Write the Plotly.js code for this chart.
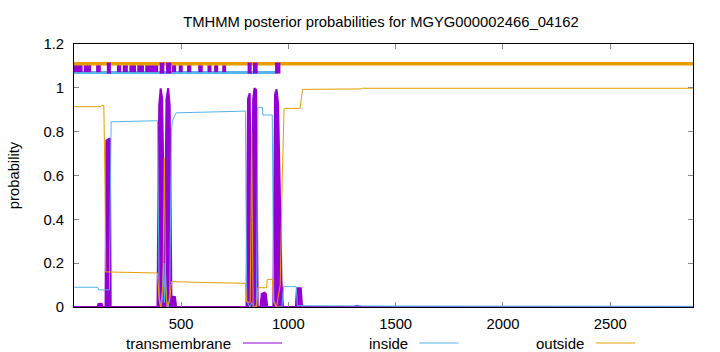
<!DOCTYPE html>
<html>
<head>
<meta charset="utf-8">
<script src="https://cdn.plot.ly/plotly-3.0.1.min.js"></script>
<style>html,body{margin:0;padding:0;background:#fff;}#chart{width:720px;height:352px;}</style>
</head>
<body>
<div id="chart"></div>
<script>
// ---- data ----
const seqLength = 2886;

const tmX = [1,110,115,130,134,148,152,168,172,390,398,405,412,418,422,426,432,440,447,455,460,472,477,805,812,820,826,829,832,836,842,850,857,870,876,889,895,902,930,938,945,952,960,968,975,1035,1040,1058,1064,1300,1320,1340,2886];
const tmY = [0,0,0.014,0.015,0,0,0.76,0.77,0,0,0.92,0.998,0.95,0.4,0.3,0.4,0.95,0.998,0.92,0.04,0.047,0.045,0,0,0.95,0.975,0.5,0.18,0.5,0.95,0.998,0.99,0,0,0.06,0.065,0.06,0,0,0.97,0.993,0.93,0.55,0.12,0,0,0.085,0.085,0,0,0.006,0,0];

const inX = [1,112,116,166,174,300,390,398,405,412,418,422,426,432,440,447,455,460,477,650,800,806,820,829,842,852,858,879,882,925,932,945,970,978,1037,1042,1500,2886];
const inY = [0.09,0.09,0.078,0.078,0.845,0.848,0.85,0.05,0,0.03,0.2,0.02,0.2,0.03,0,0.05,0.8,0.85,0.886,0.89,0.894,0.03,0,0.02,0,0.01,0.911,0.911,0.876,0.876,0.03,0,0,0.093,0.093,0.006,0.004,0.003];

const outX = [1,125,130,140,145,149,250,390,398,405,416,422,428,435,447,455,600,800,806,822,826,829,832,836,852,858,898,902,926,932,945,962,972,980,1055,1066,1338,1345,2886];
const outY = [0.914,0.914,0.92,0.92,0.6,0.16,0.158,0.155,0.03,0,0.1,0.68,0.1,0,0.03,0.116,0.112,0.108,0.025,0.02,0.4,0.8,0.4,0,0,0.088,0.088,0.126,0.126,0.02,0,0.1,0.6,0.906,0.906,0.993,0.995,0.998,0.998];

// predicted topology strip at the top
const topOutsideLevel = 1.11;
const topInsideLevel = 1.07;
const topTmLevel = 1.09;
const topInsideStart = 1, topInsideEnd = 945;
const tmSegStart = [1,47,104,201,228,259,296,333,458,489,528,580,623,654,692];
const tmSegEnd   = [41,81,126,221,252,290,327,393,477,508,548,601,642,673,710];
const tmPeakStart = [154,400,430,810,835,938];
const tmPeakEnd   = [173,422,455,829,857,963];

const xTicks = [500,1000,1500,2000,2500];
const yTicks = [0,0.2,0.4,0.6,0.8,1,1.2];
const yTickText = ["0","0.2","0.4","0.6","0.8","1","1.2"];
const legendNames = ["transmembrane","inside","outside"];

const cTm = "#9400d3", cIn = "#56b4e9", cOut = "#e69f00";

function segs(starts, ends, level){
  const x=[], y=[];
  for(let i=0;i<starts.length;i++){ x.push(starts[i],ends[i],null); y.push(level,level,null); }
  return {x,y};
}
const sReg = segs(tmSegStart, tmSegEnd, topTmLevel);
const sPeak = segs(tmPeakStart, tmPeakEnd, topTmLevel);

const traces = [
  {x:tmX, y:tmY, type:'scatter', mode:'lines', fill:'tozeroy', fillcolor:cTm, line:{color:cTm,width:2}, name:legendNames[0]},
  {x:inX, y:inY, type:'scatter', mode:'lines', line:{color:cIn,width:1}, name:legendNames[1]},
  {x:outX, y:outY, type:'scatter', mode:'lines', line:{color:cOut,width:1}, name:legendNames[2]},
  {x:[topInsideStart,topInsideEnd], y:[topInsideLevel,topInsideLevel], type:'scatter', mode:'lines', line:{color:cIn,width:3}},
  {x:sReg.x, y:sReg.y, type:'scatter', mode:'lines', line:{color:cTm,width:8}, connectgaps:false},
  {x:[1,seqLength], y:[topOutsideLevel,topOutsideLevel], type:'scatter', mode:'lines', line:{color:cOut,width:3.5}},
  {x:sPeak.x, y:sPeak.y, type:'scatter', mode:'lines', line:{color:cTm,width:11}, connectgaps:false}
];

const ml=74, mr=27, mt=44, mb=45, W=720, H=352;
const pw=W-ml-mr, ph=H-mt-mb;
function px2x(p){return (p-ml)/pw;}
function py2y(p){return (H-mb-p)/ph;}

const legendTextRight = [233,409.5,586];
const legendColors = [cTm,cIn,cOut];
const legendY = 343;
const annotations = [], shapes = [];
for(let i=0;i<3;i++){
  annotations.push({text:legendNames[i], xref:'paper', yref:'paper', x:px2x(legendTextRight[i]), y:py2y(legendY), xanchor:'right', yanchor:'middle', showarrow:false, font:{size:15,color:'#000'}});
  shapes.push({type:'line', xref:'paper', yref:'paper', x0:px2x(legendTextRight[i]+10), x1:px2x(legendTextRight[i]+49), y0:py2y(legendY), y1:py2y(legendY), line:{color:legendColors[i],width:1}});
}

const layout = {
  width:W, height:H,
  margin:{l:ml,r:mr,t:mt,b:mb,pad:0},
  paper_bgcolor:'#fff', plot_bgcolor:'#fff',
  showlegend:false,
  font:{family:'"Liberation Sans", Arial, sans-serif', size:14.8, color:'#000'},
  title:{text:'TMHMM posterior probabilities for MGYG000002466_04162', font:{size:14.8,color:'#000'}, x:px2x(381), xref:'paper', xanchor:'center', y:1-22/H, yref:'container', yanchor:'middle'},
  xaxis:{range:[1,seqLength], tickvals:xTicks, ticktext:xTicks.map(String), showline:true, linecolor:'#000', linewidth:1, mirror:'ticks', ticks:'inside', ticklen:5, tickcolor:'#888', showgrid:false, zeroline:false, tickfont:{size:14.8}, ticklabelstandoff:3},
  yaxis:{range:[0,1.2], tickvals:yTicks, ticktext:yTickText, showline:true, linecolor:'#000', linewidth:1, mirror:'ticks', ticks:'inside', ticklen:5, tickcolor:'#888', showgrid:false, zeroline:false, tickfont:{size:14.8}, ticklabelstandoff:6, title:{text:'probability', font:{size:14.8}, standoff:20}},
  annotations:annotations, shapes:shapes
};

Plotly.newPlot('chart', traces, layout, {staticPlot:true, displayModeBar:false});
</script>
</body>
</html>
